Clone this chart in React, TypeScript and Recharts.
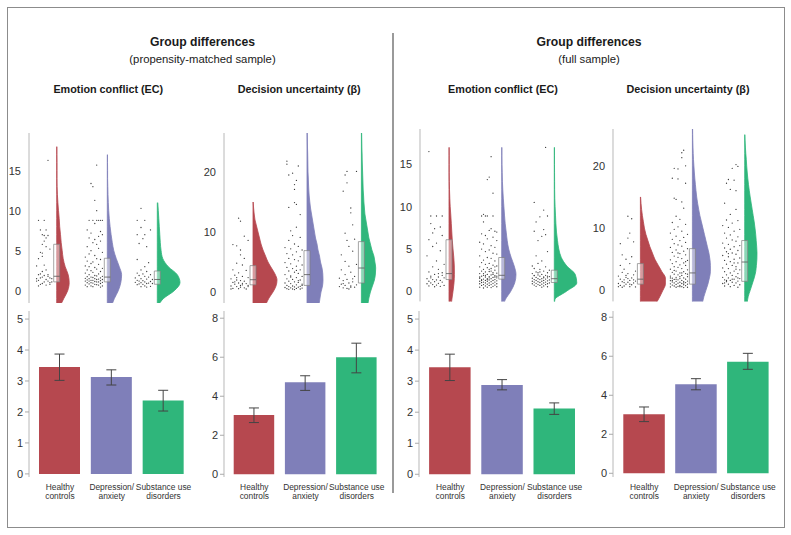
import React from 'react';
import {
  ComposedChart, Area, Scatter, XAxis, YAxis, ReferenceArea, ReferenceLine,
  BarChart, Bar, Cell, ErrorBar,
} from 'recharts';

const FONT = '"Liberation Sans", Arial, sans-serif';

const groupNames = ['Healthy controls', 'Depression/anxiety', 'Substance use disorders'];
const groupLabelLines = [['Healthy', 'controls'], ['Depression/', 'anxiety'], ['Substance use', 'disorders']];
const groupColors = ['#b6484f', '#7f7fb9', '#2fb67b'];

// ---------- bar data (mean, lower CI, upper CI) ----------
const ecMatchedMeans = [3.45, 3.13, 2.37];
const ecMatchedLow = [3.02, 2.87, 2.03];
const ecMatchedHigh = [3.87, 3.36, 2.7];

const duMatchedMeans = [3.04, 4.72, 6.0];
const duMatchedLow = [2.65, 4.3, 5.2];
const duMatchedHigh = [3.4, 5.05, 6.72];

const ecFullMeans = [3.45, 2.88, 2.12];
const ecFullLow = [3.02, 2.72, 1.93];
const ecFullHigh = [3.87, 3.05, 2.3];

const duFullMeans = [3.03, 4.56, 5.72];
const duFullLow = [2.65, 4.28, 5.33];
const duFullHigh = [3.4, 4.85, 6.15];

const ecBarTicks = [0, 1, 2, 3, 4, 5];
const duBarTicks = [0, 2, 4, 6, 8];
const ecRainTicks = [0, 5, 10, 15];
const duRainTicks = [0, 10, 20];

// ---------- boxplots [q1, median, q3] ----------
const ecMatchedBoxes = [[1.1, 1.8, 5.8], [1.1, 1.7, 4.05], [0.8, 1.4, 2.46]];
const duMatchedBoxes = [[1.2, 2.05, 4.4], [1.1, 2.9, 6.9], [1.5, 4.0, 8.4]];
const ecFullBoxes = [[1.4, 2.1, 6.1], [1.45, 1.9, 4.0], [1.05, 1.5, 2.5]];
const duFullBoxes = [[1.0, 1.8, 4.3], [1.0, 2.8, 6.7], [1.45, 4.55, 8.0]];

// ---------- half-violin widths, one value per unit of y ----------
const ecMatchedDensStart = -2;
const ecMatchedDensHC = [3, 7, 11, 12.5, 11.5, 8.5, 6.5, 5.5, 4.5, 3.8, 3, 2.5, 1.8, 1.2, 0.7, 0.4, 0.3, 0.3, 0.3, 0.2, 0.2];
const ecMatchedDensDep = [4, 7, 11, 13.5, 14.3, 12, 9, 6.5, 5, 3.8, 2.8, 2, 1.4, 1, 0.7, 0.5, 0.3, 0.3, 0.2, 0.2];
const ecMatchedDensSUD = [0.5, 6, 17, 22.7, 20, 11, 5.5, 3.8, 3, 2.5, 2, 1.5, 1, 0.5];

const duMatchedDensStart = -3;
const duMatchedDensHC = [10, 13, 16, 20, 23, 24, 22, 18.5, 15, 12.5, 10, 8, 6.5, 5, 3.5, 2, 1.2, 0.6, 0.2];
const duMatchedDensDep = [10, 12, 13, 14, 15.5, 16, 15.8, 15, 13.5, 12.5, 11, 10, 8.5, 7.5, 6.5, 5.5, 4.5, 3.5, 2.8, 2.2, 1.8, 1.5, 1.3, 1, 0.9, 0.8, 0.7, 0.5, 0.4, 0.3, 0.2];
const duMatchedDensSUD = [6, 6.5, 7.5, 9, 11, 13, 14, 14.3, 13.5, 12.5, 10.5, 9, 7.5, 6.5, 5.5, 4.5, 3.5, 3, 2.5, 2.2, 1.8, 1.6, 1.4, 1.2, 1, 0.8, 0.7, 0.5, 0.4, 0.3, 0.2];

const ecFullDensStart = -2;
const ecFullDensHC = [2, 2.8, 4, 5, 5.4, 5.3, 4.8, 4, 3.3, 2.8, 2.3, 1.8, 1.2, 0.8, 0.5, 0.3, 0.2, 0.2, 0.2, 0.15];
const ecFullDensDep = [1, 3.5, 9, 13, 14.3, 12.5, 9.5, 7, 5.5, 4.5, 3.5, 2.8, 2.2, 1.6, 1.1, 0.7, 0.5, 0.3, 0.2, 0.2];
const ecFullDensSUD = [0, 0.5, 12, 22.5, 21, 12.5, 7, 4.5, 3.2, 2.2, 1.6, 1.2, 0.8, 0.5, 0.35, 0.3, 0.25, 0.2, 0.2, 0.2];

const duFullDensStart = -3;
const duFullDensHC = [12, 16, 19.5, 22.5, 25, 25, 21.5, 18, 14.5, 12, 9.5, 7.5, 5.5, 4, 3, 2, 1.2, 0.6, 0.2];
const duFullDensDep = [9, 10, 11.5, 13.5, 15.5, 17, 18, 18, 17.5, 16.5, 15, 13.5, 12, 10.5, 9, 7.5, 6.3, 5.2, 4.3, 3.6, 3, 2.4, 1.9, 1.5, 1.1, 0.8, 0.6, 0.4, 0.3, 0.2];
const duFullDensSUD = [2, 2.5, 3.5, 5.5, 7.5, 9.5, 11, 11.7, 12.2, 12.3, 12, 11.5, 11, 10.3, 9.5, 8.5, 7.5, 6.5, 5.5, 4.6, 3.8, 3.1, 2.5, 2, 1.6, 1.1, 0.7, 0.4, 0.2];

// ---------- individual participants [jitter slot 0-9, value] ----------
const ecMatchedPtsHC = [[7,16.3],[2,8.8],[5,8.8],[3,7.6],[6,7.6],[4,7.0],[5,6.9],[6,6.6],[5,6.2],[4,5.8],[6,5.5],[3,4.8],[4,4.7],[4,4.3],[2,4.0],[5,3.2],[6,2.6],[2,2.0],[3,2.1],[7,2.0],[3,1.6],[4,1.7],[8,1.6],[9,1.5],[1,1.2],[2,1.3],[5,1.1],[7,1.2],[8,1.0],[3,0.8],[4,0.9],[6,0.7],[8,0.8],[1,1.5],[6,1.4],[7,1.8],[2,0.6],[5,1.9],[9,1.1],[4,2.4],[8,5.2],[7,6.9],[1,3.1]];
const ecMatchedPtsDep = [[6,15.7],[3,13.4],[4,13.0],[5,11.3],[6,10.0],[2,8.8],[4,8.8],[6,8.8],[7,8.8],[8,8.8],[9,8.8],[5,8.4],[1,7.6],[8,7.4],[3,7.2],[9,7.0],[7,6.8],[2,6.6],[5,6.4],[8,6.2],[4,6.0],[6,5.8],[1,5.5],[7,5.3],[3,5.0],[9,4.8],[2,4.6],[5,4.4],[0,4.2],[6,4.0],[8,3.9],[1,3.7],[4,3.6],[3,3.4],[7,3.3],[0,3.1],[2,3.0],[5,2.9],[9,2.8],[6,2.7],[1,2.6],[3,2.5],[8,2.4],[4,2.3],[0,2.2],[7,2.1],[2,2.0],[5,1.9],[6,1.85],[9,1.8],[1,1.75],[3,1.7],[4,1.65],[8,1.6],[0,1.55],[2,1.5],[5,1.5],[7,1.45],[6,1.4],[9,1.4],[1,1.35],[3,1.3],[4,1.3],[8,1.25],[0,1.2],[2,1.2],[5,1.15],[6,1.1],[7,1.1],[9,1.05],[1,1.0],[3,1.0],[4,0.95],[8,0.9],[2,0.85],[5,0.8],[6,0.75],[0,0.7],[7,0.7],[3,0.6],[9,0.6],[1,0.5],[4,0.5],[8,0.45]];
const ecMatchedPtsSUD = [[3,10.3],[1,8.8],[5,8.8],[3,7.9],[8,7.6],[1,7.0],[5,7.0],[4,6.5],[2,5.9],[6,5.5],[1,3.9],[7,3.5],[5,3.0],[3,2.6],[6,2.4],[1,2.2],[4,2.1],[8,2.0],[2,1.9],[5,1.8],[7,1.7],[0,1.6],[3,1.5],[6,1.45],[9,1.4],[1,1.3],[4,1.25],[2,1.2],[8,1.15],[5,1.1],[0,1.05],[3,1.0],[7,0.95],[6,0.9],[2,0.85],[4,0.8],[1,0.75],[9,0.9],[5,0.6],[8,0.55],[3,0.5],[6,0.45]];

const duMatchedPtsHC = [[4,12.3],[5,11.8],[7,9.3],[9,8.6],[1,7.9],[3,7.7],[5,7.0],[5,6.2],[7,5.6],[3,4.8],[6,4.5],[1,3.7],[8,3.6],[4,3.2],[2,2.8],[6,2.6],[9,2.4],[0,2.2],[3,2.0],[5,1.9],[7,1.8],[1,1.6],[4,1.5],[8,1.4],[2,1.3],[6,1.2],[9,1.1],[0,1.0],[3,0.9],[5,0.8],[7,0.7],[1,0.6],[4,0.55],[8,0.5],[2,1.7],[6,1.45],[3,2.4],[5,1.1],[9,0.9],[0,0.5]];
const duMatchedPtsDep = [[1,21.8],[1,21.3],[7,21.0],[2,19.5],[4,19.8],[5,17.9],[6,18.6],[5,17.1],[2,14.1],[5,14.9],[6,14.6],[8,12.9],[3,10.2],[4,9.4],[6,10.8],[8,9.1],[2,8.6],[5,8.0],[7,7.6],[0,7.4],[3,7.2],[9,7.0],[6,6.7],[1,6.4],[4,6.2],[8,5.9],[2,5.6],[5,5.4],[7,5.2],[0,4.9],[3,4.7],[9,4.5],[6,4.3],[1,4.1],[4,3.9],[8,3.7],[2,3.5],[5,3.3],[7,3.1],[0,2.9],[3,2.7],[9,2.6],[6,2.4],[1,2.2],[4,2.1],[8,2.0],[2,1.8],[5,1.7],[7,1.6],[0,1.5],[3,1.4],[9,1.3],[6,1.2],[1,1.1],[4,1.0],[8,0.95],[2,0.9],[5,0.85],[7,0.8],[0,0.75],[3,0.7],[9,0.65],[6,0.6],[1,0.55],[4,0.5],[8,0.5],[2,0.45],[5,0.4],[7,1.9],[3,2.5],[6,3.6],[9,1.1]];
const duMatchedPtsSUD = [[4,20.1],[9,20.1],[3,19.5],[4,18.2],[2,16.8],[6,14.0],[6,13.2],[7,11.2],[3,9.8],[4,8.6],[8,8.8],[5,7.6],[1,6.2],[7,6.8],[3,5.1],[5,4.3],[9,4.6],[1,3.7],[6,3.3],[3,2.9],[8,2.6],[0,2.3],[4,2.1],[2,1.9],[7,1.7],[5,1.5],[1,1.3],[9,1.2],[3,1.1],[6,1.0],[0,0.9],[8,0.8],[2,0.7],[4,0.6],[5,0.5],[7,2.2],[2,1.4],[6,0.8]];

const ecFullPtsHC = [[1,16.5],[2,8.9],[5,8.9],[8,8.9],[2,8.0],[4,7.4],[7,7.6],[3,6.9],[8,6.6],[1,6.1],[5,5.7],[3,5.3],[7,4.8],[0,4.2],[5,3.6],[9,3.2],[3,2.9],[6,2.6],[1,2.3],[8,2.2],[4,2.0],[2,1.8],[6,1.7],[9,1.6],[0,1.5],[3,1.4],[5,1.35],[7,1.3],[1,1.2],[4,1.15],[8,1.1],[2,1.0],[6,0.95],[0,0.9],[3,0.8],[5,0.75],[9,0.7],[1,0.65],[7,0.6],[4,0.55],[2,1.6],[6,2.1],[8,1.9]];
const ecFullPtsDep = [[6,15.9],[5,13.5],[4,13.2],[7,11.6],[2,9.1],[1,8.9],[3,8.9],[4,8.9],[7,8.9],[2,8.2],[6,7.4],[5,7.2],[8,7.1],[9,7.0],[1,6.8],[3,6.6],[7,6.4],[4,6.2],[9,6.0],[0,5.8],[2,5.6],[6,5.4],[8,5.2],[1,5.0],[5,4.9],[3,4.7],[7,4.5],[9,4.4],[0,4.2],[4,4.0],[6,3.9],[2,3.7],[8,3.6],[1,3.4],[5,3.3],[3,3.2],[7,3.1],[9,3.0],[0,2.9],[4,2.8],[6,2.7],[2,2.6],[8,2.5],[1,2.4],[5,2.35],[3,2.3],[7,2.2],[9,2.15],[0,2.1],[4,2.0],[6,1.95],[2,1.9],[8,1.85],[1,1.8],[5,1.75],[3,1.7],[7,1.65],[9,1.6],[0,1.55],[4,1.5],[6,1.5],[2,1.45],[8,1.4],[1,1.4],[5,1.35],[3,1.3],[7,1.3],[9,1.25],[0,1.2],[4,1.2],[6,1.15],[2,1.1],[8,1.1],[1,1.05],[5,1.0],[3,1.0],[7,0.95],[9,0.9],[0,0.9],[4,0.85],[6,0.8],[2,0.8],[8,0.75],[1,0.7],[5,0.7],[3,0.65],[7,0.6],[9,0.55],[0,0.5],[4,0.5],[6,0.45],[2,0.4],[8,1.7],[5,1.6],[3,1.9],[7,2.0],[1,1.3],[4,1.4],[6,2.4],[2,2.1],[9,1.8],[0,1.7],[8,2.9],[5,2.6]];
const ecFullPtsSUD = [[7,17.0],[1,10.5],[6,9.6],[4,8.8],[8,8.9],[2,8.2],[6,7.3],[1,7.1],[5,6.5],[3,6.0],[7,6.7],[8,4.7],[2,4.2],[0,3.0],[5,3.6],[3,3.3],[7,2.9],[1,2.7],[4,2.6],[9,2.5],[6,2.4],[2,2.3],[8,2.2],[0,2.1],[5,2.0],[3,1.95],[7,1.9],[1,1.85],[4,1.8],[9,1.75],[6,1.7],[2,1.65],[8,1.6],[0,1.55],[5,1.5],[3,1.5],[7,1.45],[1,1.4],[4,1.4],[9,1.35],[6,1.3],[2,1.3],[8,1.25],[0,1.2],[5,1.2],[3,1.15],[7,1.1],[1,1.1],[4,1.05],[9,1.0],[6,1.0],[2,0.95],[8,0.9],[0,0.9],[5,0.85],[3,0.8],[7,0.8],[1,0.75],[4,0.7],[6,0.65],[2,0.6],[8,0.55],[5,0.5],[3,2.2],[6,1.6],[1,1.9],[8,1.8],[4,2.3]];

const duFullPtsHC = [[5,11.9],[7,11.5],[6,9.2],[1,7.5],[5,8.4],[8,7.8],[2,5.7],[4,5.0],[7,5.4],[1,4.0],[6,4.3],[3,3.4],[9,3.1],[2,2.9],[5,2.7],[8,2.5],[0,2.3],[4,2.1],[7,2.0],[1,1.8],[3,1.7],[6,1.6],[9,1.5],[2,1.4],[5,1.3],[8,1.2],[0,1.1],[4,1.0],[7,0.9],[1,0.8],[3,0.7],[6,0.6],[9,0.55],[2,0.5],[5,1.9],[8,1.7],[4,2.4],[0,0.6],[6,1.0],[3,1.25]];
const duFullPtsDep = [[7,22.5],[6,22.1],[6,21.3],[2,19.6],[4,19.5],[8,20.0],[1,18.0],[4,17.9],[8,17.2],[2,14.8],[3,14.6],[6,14.2],[7,13.2],[3,11.9],[5,11.4],[1,10.9],[8,10.6],[4,10.2],[2,9.8],[6,9.5],[0,9.2],[9,9.0],[3,8.7],[7,8.5],[1,8.2],[5,8.0],[8,7.7],[2,7.5],[4,7.3],[6,7.1],[0,6.9],[9,6.7],[3,6.5],[7,6.3],[1,6.1],[5,5.9],[8,5.7],[2,5.5],[4,5.3],[6,5.1],[0,4.9],[9,4.8],[3,4.6],[7,4.4],[1,4.3],[5,4.1],[8,4.0],[2,3.8],[4,3.7],[6,3.5],[0,3.4],[9,3.3],[3,3.1],[7,3.0],[1,2.9],[5,2.8],[8,2.7],[2,2.6],[4,2.5],[6,2.4],[0,2.3],[9,2.2],[3,2.1],[7,2.0],[1,1.95],[5,1.9],[8,1.8],[2,1.75],[4,1.7],[6,1.6],[0,1.55],[9,1.5],[3,1.45],[7,1.4],[1,1.35],[5,1.3],[8,1.25],[2,1.2],[4,1.15],[6,1.1],[0,1.05],[9,1.0],[3,0.95],[7,0.9],[1,0.85],[5,0.8],[8,0.75],[2,0.7],[4,0.65],[6,0.6],[0,0.55],[9,0.5],[3,0.5],[7,0.45],[5,2.2],[2,3.2],[8,4.6],[4,6.0],[6,2.8],[1,1.6],[3,1.8],[7,1.2],[0,2.0],[9,2.6],[5,0.6]];
const duFullPtsSUD = [[7,20.2],[8,19.9],[5,19.6],[3,17.8],[6,17.7],[2,17.2],[4,16.2],[7,16.0],[1,14.0],[7,13.0],[4,12.2],[2,11.3],[8,11.2],[5,10.8],[0,10.4],[3,10.1],[9,9.8],[6,9.5],[1,9.2],[4,8.9],[8,8.6],[2,8.4],[5,8.1],[7,7.9],[0,7.6],[3,7.4],[9,7.2],[6,7.0],[1,6.8],[4,6.6],[8,6.4],[2,6.2],[5,6.0],[7,5.8],[0,5.6],[3,5.4],[9,5.2],[6,5.0],[1,4.8],[4,4.6],[8,4.4],[2,4.2],[5,4.0],[7,3.8],[0,3.6],[3,3.5],[9,3.3],[6,3.1],[1,3.0],[4,2.8],[8,2.7],[2,2.5],[5,2.4],[7,2.2],[0,2.1],[3,2.0],[9,1.9],[6,1.8],[1,1.7],[4,1.6],[8,1.5],[2,1.4],[5,1.3],[7,1.2],[0,1.1],[3,1.0],[9,0.9],[6,0.8],[1,0.7],[4,0.6],[8,0.5],[2,1.6],[5,1.8],[7,3.4],[3,5.9],[6,4.4],[1,1.2],[8,2.0]];

// ---------- components ----------
const AXIS_W = 30;
const EXTRA_R = 24;

function Raincloud(props: any) {
  const { left, top, height, plotW, domain, ticks, centers, densStart, dens, pts, boxes } = props;
  const maxLen = Math.max(...dens.map((d: number[]) => d.length));
  const rows: any[] = [];
  for (let i = 0; i < maxLen; i++) {
    const row: any = { y: densStart + i };
    dens.forEach((d: number[], g: number) => {
      row['g' + g] = i < d.length ? [centers[g], centers[g] + d[i]] : [null, null];
    });
    rows.push(row);
  }
  const scatterData = pts.map((list: number[][], g: number) =>
    list.map(([j, v]) => ({ x: centers[g] - 22 + j * 1.9, y: v })));
  const dot = (p: any) => <circle cx={p.cx} cy={p.cy} r={0.65} fill="#3a3a3a" />;
  return (
    <div style={{ position: 'absolute', left: left - AXIS_W, top }}>
      <ComposedChart layout="vertical" width={AXIS_W + plotW} height={height} data={rows}
        margin={{ top: 0, right: 0, bottom: 0, left: 0 }}>
        <XAxis type="number" dataKey="x" domain={[0, plotW]} hide allowDataOverflow />
        <YAxis type="number" dataKey="y" domain={domain} ticks={ticks} interval={0} allowDataOverflow reversed
          width={AXIS_W} tickLine={false} axisLine={{ stroke: '#b8b8b8' }}
          tick={{ fontSize: 11, fill: '#333', fontFamily: FONT }} />
        {scatterData.map((d: any[], g: number) => (
          <Scatter key={'s' + g} data={d} shape={dot} isAnimationActive={false} />
        ))}
        {dens.map((_: any, g: number) => (
          <Area key={'a' + g} type="monotone" dataKey={(r: any) => r['g' + g]} fill={groupColors[g]}
            fillOpacity={1} stroke={groupColors[g]} strokeWidth={0.8} isAnimationActive={false}
            connectNulls={false} dot={false} activeDot={false} />
        ))}
        {boxes.map((b: number[], g: number) => (
          <ReferenceArea key={'b' + g} x1={centers[g] - 3} x2={centers[g] + 3} y1={b[0]} y2={b[2]}
            fill="#ffffff" fillOpacity={0.45} stroke="#808080" strokeWidth={0.7} />
        ))}
        {boxes.map((b: number[], g: number) => (
          <ReferenceLine key={'m' + g} segment={[{ x: centers[g] - 3, y: b[1] }, { x: centers[g] + 3, y: b[1] }]}
            stroke="#555" strokeWidth={0.8} />
        ))}
      </ComposedChart>
    </div>
  );
}

function CatTick(props: any) {
  const { x, y, payload } = props;
  const lines = groupLabelLines[groupNames.indexOf(payload.value)] || [payload.value];
  return (
    <g>
      {lines.map((t: string, i: number) => (
        <text key={i} x={x} y={y + 5 + i * 9.4} textAnchor="middle" fontSize={8.4} fill="#333" fontFamily={FONT}>{t}</text>
      ))}
    </g>
  );
}

function BarPanel(props: any) {
  const { left, plotW, padLeft, barSize, domain, ticks, means, lows, highs } = props;
  const data = groupNames.map((g, i) => ({ name: g, value: means[i], err: [means[i] - lows[i], highs[i] - means[i]] }));
  return (
    <div style={{ position: 'absolute', left: left - AXIS_W, top: 311 }}>
      <BarChart width={AXIS_W + plotW + EXTRA_R} height={166 + 30} data={data}
        margin={{ top: 0, right: EXTRA_R, bottom: 0, left: 0 }}>
        <XAxis dataKey="name" type="category" axisLine={false} tickLine={false} height={30} interval={0}
          padding={{ left: padLeft, right: 0 }} tick={<CatTick />} />
        <YAxis type="number" domain={domain} ticks={ticks} interval={0} allowDataOverflow width={AXIS_W}
          tickSize={4} tickLine={{ stroke: '#aaa' }} axisLine={{ stroke: '#b8b8b8' }}
          tick={{ fontSize: 11, fill: '#333', fontFamily: FONT }} />
        <Bar dataKey="value" barSize={barSize} isAnimationActive={false}>
          {data.map((_, i) => <Cell key={i} fill={groupColors[i]} />)}
          <ErrorBar dataKey="err" direction="y" width={5} stroke="#444" strokeWidth={1} />
        </Bar>
      </BarChart>
    </div>
  );
}

function Label(props: any) {
  const { cx, cy, size, bold, children } = props;
  return (
    <div style={{
      position: 'absolute', left: cx, top: cy - size / 2 - 1, transform: 'translateX(-50%)',
      fontSize: size, lineHeight: size + 'px', fontWeight: bold ? 700 : 400, whiteSpace: 'nowrap',
      fontFamily: FONT, color: '#1a1a1a',
    }}>{children}</div>
  );
}

export default function App() {
  return (
    <div style={{ position: 'absolute', left: 0, top: 0, width: 791, height: 535, background: '#fff', overflow: 'hidden' }}>
      <div style={{ position: 'absolute', left: 7, top: 7, width: 776, height: 519, border: '1px solid #8c8c8c' }} />
      <div style={{ position: 'absolute', left: 392, top: 33, width: 2, height: 460, background: '#9a9a9a' }} />

      <Label cx={202.5} cy={42.7} size={12.2} bold>Group differences</Label>
      <Label cx={202.5} cy={60.5} size={11.3}>(propensity-matched sample)</Label>
      <Label cx={108.3} cy={90.7} size={10.8} bold>Emotion conflict (EC)</Label>
      <Label cx={299.2} cy={90.7} size={10.8} bold>Decision uncertainty (β)</Label>

      <Label cx={589} cy={42.7} size={12.2} bold>Group differences</Label>
      <Label cx={589} cy={60.5} size={11.3}>(full sample)</Label>
      <Label cx={503} cy={90.7} size={10.8} bold>Emotion conflict (EC)</Label>
      <Label cx={688} cy={90.7} size={10.8} bold>Decision uncertainty (β)</Label>

      <Raincloud left={29} top={133} height={170} plotW={161} domain={[-1.54, 19.71]} ticks={ecRainTicks}
        centers={[27.7, 78.3, 128.3]} densStart={ecMatchedDensStart}
        dens={[ecMatchedDensHC, ecMatchedDensDep, ecMatchedDensSUD]}
        pts={[ecMatchedPtsHC, ecMatchedPtsDep, ecMatchedPtsSUD]} boxes={ecMatchedBoxes} />
      <Raincloud left={224.3} top={133.3} height={170} plotW={161} domain={[-1.83, 26.5]} ticks={duRainTicks}
        centers={[29, 83, 137.4]} densStart={duMatchedDensStart}
        dens={[duMatchedDensHC, duMatchedDensDep, duMatchedDensSUD]}
        pts={[duMatchedPtsHC, duMatchedPtsDep, duMatchedPtsSUD]} boxes={duMatchedBoxes} />
      <Raincloud left={420} top={129.3} height={172.4} plotW={161} domain={[-1.18, 19.17]} ticks={ecRainTicks}
        centers={[29, 81.7, 134.3]} densStart={ecFullDensStart}
        dens={[ecFullDensHC, ecFullDensDep, ecFullDensSUD]}
        pts={[ecFullPtsHC, ecFullPtsDep, ecFullPtsSUD]} boxes={ecFullBoxes} />
      <Raincloud left={613.3} top={129.3} height={172.4} plotW={161} domain={[-1.77, 25.91]} ticks={duRainTicks}
        centers={[27.4, 79.4, 131.7]} densStart={duFullDensStart}
        dens={[duFullDensHC, duFullDensDep, duFullDensSUD]}
        pts={[duFullPtsHC, duFullPtsDep, duFullPtsSUD]} boxes={duFullBoxes} />

      <BarPanel left={29} plotW={160.5} padLeft={5} barSize={41} domain={[-0.1, 5.26]} ticks={ecBarTicks}
        means={ecMatchedMeans} lows={ecMatchedLow} highs={ecMatchedHigh} />
      <BarPanel left={224} plotW={158.3} padLeft={4.7} barSize={40.5} domain={[-0.14, 8.37]} ticks={duBarTicks}
        means={duMatchedMeans} lows={duMatchedLow} highs={duMatchedHigh} />
      <BarPanel left={419.3} plotW={161.7} padLeft={5.1} barSize={41.5} domain={[-0.087, 5.26]} ticks={ecBarTicks}
        means={ecFullMeans} lows={ecFullLow} highs={ecFullHigh} />
      <BarPanel left={613.3} plotW={161} padLeft={5.3} barSize={41.5} domain={[-0.19, 8.32]} ticks={duBarTicks}
        means={duFullMeans} lows={duFullLow} highs={duFullHigh} />
    </div>
  );
}
